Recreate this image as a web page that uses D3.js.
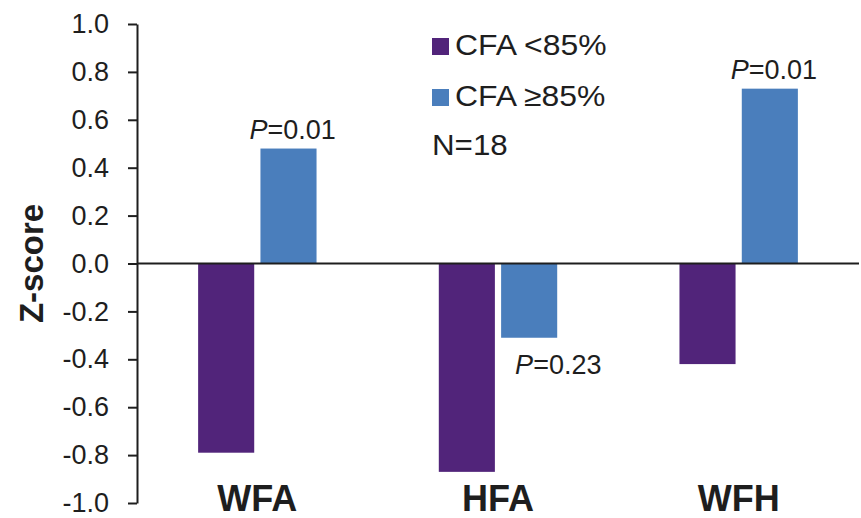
<!DOCTYPE html>
<html>
<head>
<meta charset="utf-8">
<script src="https://cdn.jsdelivr.net/npm/d3@7"></script>
<style>
  html, body { margin: 0; padding: 0; background: #fff; }
  svg { display: block; font-family: "Liberation Sans", Arial, Helvetica, sans-serif; }
</style>
</head>
<body>
<svg id="chart" width="861" height="518"></svg>
<script>
// Z-score by growth indicator, split by CFA group
const categories = ["WFA", "HFA", "WFH"];
const seriesNames = ["CFA <85%", "CFA \u226585%"];
const cfaBelow85 = [-0.79, -0.87, -0.42];
const cfaAbove85 = [0.48, -0.31, 0.73];
const pValues = ["0.01", "0.23", "0.01"];
const yTickValues = [1.0, 0.8, 0.6, 0.4, 0.2, 0.0, -0.2, -0.4, -0.6, -0.8, -1.0];
const yTickLabels = ["1.0", "0.8", "0.6", "0.4", "0.2", "0.0", "-0.2", "-0.4", "-0.6", "-0.8", "-1.0"];
const sampleNote = "N=18";

const colors = ["#51247a", "#4a7ebc"];
const ink = "#1e1e1e";

const svg = d3.select("#chart");

const y = d3.scaleLinear().domain([-1, 1]).range([503, 24]);
const x0 = d3.scaleBand().domain(categories).range([137, 859])
  .paddingInner(0.508).paddingOuter(0.254);
const x1 = d3.scaleBand().domain(seriesNames).range([0, x0.bandwidth()])
  .paddingInner(0.1).paddingOuter(0);

const rows = categories.map((c, i) => ({
  cat: c,
  vals: [cfaBelow85[i], cfaAbove85[i]],
  p: pValues[i]
}));

// bars
const groups = svg.append("g").selectAll("g").data(rows).join("g")
  .attr("transform", d => `translate(${x0(d.cat)},0)`);

groups.selectAll("rect")
  .data(d => d.vals.map((v, k) => ({ name: seriesNames[k], v, k })))
  .join("rect")
  .attr("x", d => x1(d.name))
  .attr("width", x1.bandwidth())
  .attr("y", d => y(Math.max(0, d.v)))
  .attr("height", d => Math.abs(y(d.v) - y(0)))
  .attr("fill", d => colors[d.k]);

// zero line across the plot
svg.append("line")
  .attr("x1", 137).attr("x2", 859)
  .attr("y1", y(0)).attr("y2", y(0))
  .attr("stroke", ink).attr("stroke-width", 2);

// y axis
const yAxis = d3.axisLeft(y)
  .tickValues(yTickValues)
  .tickFormat((d, i) => yTickLabels[i])
  .tickSize(9)
  .tickSizeOuter(0)
  .tickPadding(19);

const ag = svg.append("g").attr("transform", "translate(137,0)").call(yAxis);
ag.select(".domain").attr("stroke", ink).attr("stroke-width", 2);
ag.selectAll(".tick line").attr("stroke", ink).attr("stroke-width", 2);
ag.selectAll(".tick text")
  .attr("fill", ink)
  .style("font-size", "27px")
  .style("font-family", "'Liberation Sans', Arial, sans-serif");

// y axis title
svg.append("text")
  .attr("transform", `translate(43,${y(0)}) rotate(-90)`)
  .attr("text-anchor", "middle")
  .attr("fill", ink)
  .style("font-size", "33px")
  .style("font-weight", "bold")
  .text("Z-score");

// category labels
svg.append("g").selectAll("text").data(categories).join("text")
  .attr("x", d => x0(d) + x0.bandwidth() / 2)
  .attr("y", 511)
  .attr("text-anchor", "middle")
  .attr("fill", ink)
  .style("font-size", "36px")
  .style("font-weight", "bold")
  .text(d => d);

// P-value labels on the CFA >=85% bars
const pl = svg.append("g").selectAll("text").data(rows).join("text")
  .attr("x", d => {
    const bx = x0(d.cat) + x1(seriesNames[1]);
    return d.vals[1] >= 0 ? bx - 11 : bx + 14;
  })
  .attr("y", d => d.vals[1] >= 0 ? y(d.vals[1]) - 10 : y(d.vals[1]) + 36)
  .attr("fill", ink)
  .style("font-size", "27px");
pl.append("tspan").style("font-style", "italic").text("P");
pl.append("tspan").text(d => "=" + d.p);

// legend (text set slightly wide)
const lg = svg.append("g").attr("transform", "translate(432,0)");
const legendRows = [55, 106];
seriesNames.forEach((name, k) => {
  lg.append("rect")
    .attr("x", 0).attr("y", legendRows[k] - 17)
    .attr("width", 17).attr("height", 17)
    .attr("fill", colors[k]);
  lg.append("text")
    .attr("transform", `translate(23,${legendRows[k]}) scale(1.1,1)`)
    .attr("fill", ink)
    .style("font-size", "29px")
    .text(name);
});
lg.append("text")
  .attr("transform", "translate(0,155) scale(1.08,1)")
  .attr("fill", ink)
  .style("font-size", "29px")
  .text(sampleNote);
</script>
</body>
</html>
